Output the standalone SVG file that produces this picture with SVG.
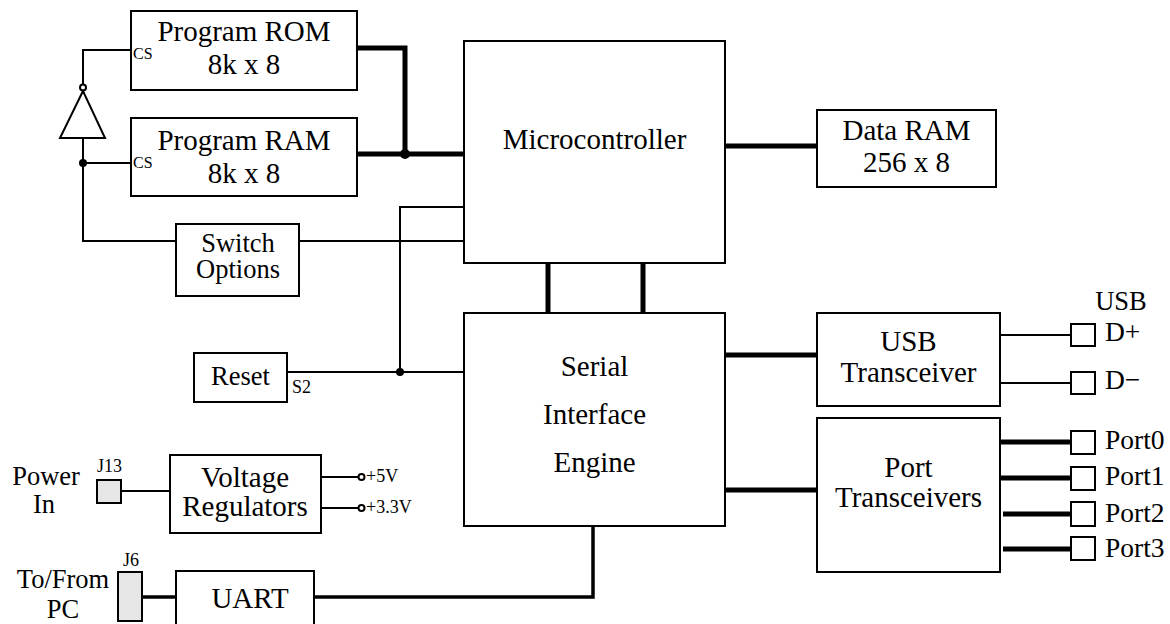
<svg xmlns="http://www.w3.org/2000/svg" width="1170" height="624" viewBox="0 0 1170 624">
<style>
.box{fill:#fff;stroke:#000;stroke-width:2}
.pin{fill:#fff;stroke:#000;stroke-width:2}
.jack{fill:#e6e6e6;stroke:#000;stroke-width:2}
.w{fill:none;stroke:#000;stroke-width:2}
.m{fill:none;stroke:#000;stroke-width:3.5}
.t{fill:none;stroke:#000;stroke-width:5}
.dot{fill:#000}
text{font-family:"Liberation Serif","Times New Roman",serif;fill:#000}
.l{font-size:29px;text-anchor:middle}
.k{font-size:26.5px;text-anchor:middle}
.p{font-size:27.5px}
.s{font-size:18px}
.c{font-size:16px}
</style>
<rect width="1170" height="624" fill="#fff"/>
<g id="connectors">
<polyline class="t" points="357,48 405,48 405,154"/>
<line class="t" x1="357" y1="154" x2="464" y2="154"/>
<circle class="dot" cx="405" cy="154" r="5"/>
<polyline class="w" points="131,50 83,50 83,84"/>
<circle class="pin" cx="83" cy="87.5" r="3"/>
<polygon class="w" points="83,91 60,138 105,138"/>
<polyline class="w" points="83,138 83,241 176,241"/>
<line class="w" x1="83" y1="163" x2="131" y2="163"/>
<circle class="dot" cx="83" cy="163" r="4"/>
<line class="w" x1="299" y1="241" x2="464" y2="241"/>
<polyline class="w" points="464,207 400,207 400,372"/>
<line class="w" x1="287" y1="372" x2="464" y2="372"/>
<circle class="dot" cx="400" cy="372" r="4"/>
<line class="t" x1="725" y1="146" x2="817" y2="146"/>
<line class="t" x1="548" y1="263" x2="548" y2="313"/>
<line class="t" x1="643" y1="263" x2="643" y2="313"/>
<line class="t" x1="725" y1="355" x2="817" y2="355"/>
<line class="t" x1="723" y1="490" x2="817" y2="490"/>
<line class="w" x1="1000" y1="335" x2="1071" y2="335"/>
<line class="w" x1="1000" y1="383" x2="1071" y2="383"/>
<line class="t" x1="1000" y1="442" x2="1071" y2="442"/>
<line class="t" x1="1000" y1="478" x2="1071" y2="478"/>
<line class="t" x1="1003" y1="514" x2="1071" y2="514"/>
<line class="t" x1="1003" y1="549" x2="1071" y2="549"/>
<line class="w" x1="121" y1="491" x2="170" y2="491"/>
<line class="w" x1="321" y1="477" x2="358.5" y2="477"/>
<line class="w" x1="321" y1="508" x2="358.5" y2="508"/>
<circle class="pin" cx="361.5" cy="477" r="3"/>
<circle class="pin" cx="361.5" cy="508" r="3"/>
<line class="m" x1="142" y1="597" x2="176" y2="597"/>
<polyline class="m" points="314,597 593,597 593,526"/>
</g>
<g id="rom"><rect class="box" x="131" y="11" width="226" height="79"/>
<text class="l" x="244" y="41">Program ROM</text><text class="l" x="244" y="74">8k x 8</text>
<text class="c" x="133" y="59">CS</text></g>
<g id="ram"><rect class="box" x="131" y="118" width="226" height="78"/>
<text class="l" x="244" y="150">Program RAM</text><text class="l" x="244" y="183">8k x 8</text>
<text class="c" x="133" y="168">CS</text></g>
<g id="inverter"></g>
<g id="switch"><rect class="box" x="176" y="224" width="123" height="72"/>
<text class="k" x="238" y="252">Switch</text><text class="k" x="238" y="278">Options</text></g>
<g id="mcu"><rect class="box" x="464" y="41" width="261" height="222"/>
<text class="l" x="594.5" y="149">Microcontroller</text></g>
<g id="dataram"><rect class="box" x="817" y="110" width="179" height="77"/>
<text class="l" x="906.5" y="140">Data RAM</text><text class="l" x="906.5" y="172">256 x 8</text></g>
<g id="sie"><rect class="box" x="464" y="313" width="261" height="213"/>
<text class="l" x="594.5" y="376">Serial</text><text class="l" x="594.5" y="424">Interface</text><text class="l" x="594.5" y="472">Engine</text></g>
<g id="reset"><rect class="box" x="194" y="353" width="93" height="49"/>
<text class="k" x="240.5" y="385">Reset</text><text class="s" x="292" y="393">S2</text></g>
<g id="usb"><rect class="box" x="817" y="313" width="183" height="93"/>
<text class="l" x="908.5" y="351">USB</text><text class="l" x="908.5" y="382">Transceiver</text></g>
<g id="ports"><rect class="box" x="817" y="418" width="183" height="154"/>
<text class="l" x="908.5" y="477">Port</text><text class="l" x="908.5" y="507">Transceivers</text></g>
<g id="usbpins">
<text class="k" x="1121" y="310">USB</text>
<rect class="pin" x="1071" y="324" width="24" height="22"/><text class="p" x="1105" y="341">D+</text>
<rect class="pin" x="1071" y="372" width="24" height="22"/><text class="p" x="1105" y="389">D−</text>
</g>
<g id="portpins">
<rect class="pin" x="1071" y="431" width="24" height="23"/><text class="p" x="1105" y="449">Port0</text>
<rect class="pin" x="1071" y="467" width="24" height="23"/><text class="p" x="1105" y="485">Port1</text>
<rect class="pin" x="1071" y="502" width="24" height="24"/><text class="p" x="1105" y="522">Port2</text>
<rect class="pin" x="1071" y="537" width="24" height="23"/><text class="p" x="1105" y="557">Port3</text>
</g>
<g id="power">
<text class="k" x="46" y="485">Power</text><text class="k" x="44" y="513">In</text>
<text class="s" x="97" y="472">J13</text>
<rect class="jack" x="97" y="480" width="24" height="23"/>
</g>
<g id="vreg"><rect class="box" x="170" y="455" width="151" height="78"/>
<text class="l" x="245" y="487">Voltage</text><text class="l" x="245" y="516">Regulators</text>
<text class="s" x="366" y="482">+5V</text><text class="s" x="366" y="513">+3.3V</text></g>
<g id="pc">
<text class="k" x="63" y="588">To/From</text><text class="k" x="63" y="618">PC</text>
<text class="s" x="123" y="566">J6</text>
<rect class="jack" x="118" y="572" width="24" height="49"/>
</g>
<g id="uart"><rect class="box" x="176" y="571" width="138" height="60"/>
<text class="l" x="250" y="608">UART</text></g>
</svg>
